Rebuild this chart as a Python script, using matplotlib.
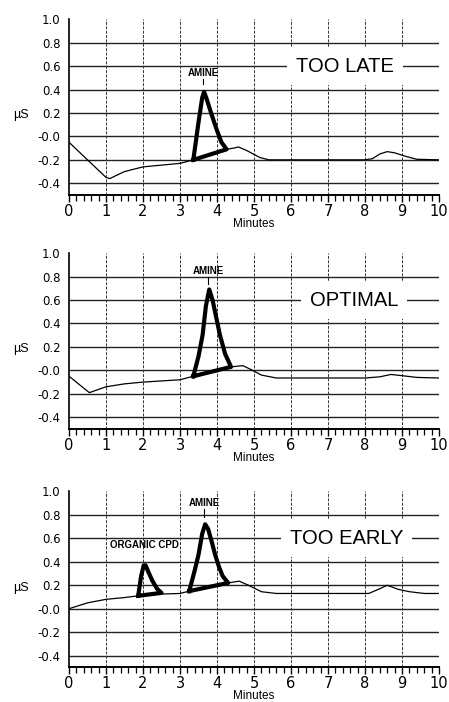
import numpy as np
import matplotlib.pyplot as plt
import matplotlib.transforms as mtransforms

plt.rcParams['font.family'] = ['Liberation Sans', 'DejaVu Sans']

# ---- data ----
late_x = [0, 0.5, 1.0, 1.1, 1.5, 2.0, 2.5, 3.0, 3.36, 3.8, 4.26, 4.45, 4.58, 4.8, 5.16, 5.4, 6, 7, 8.0, 8.2,
          8.4, 8.6, 8.8, 9.1, 9.4, 10]
late_y = [-0.05, -0.2, -0.35, -0.36, -0.30, -0.26, -0.245, -0.23, -0.20, -0.16, -0.11, -0.10, -0.09, -0.12,
          -0.18, -0.20, -0.20, -0.20, -0.20, -0.19, -0.15, -0.13, -0.14, -0.17, -0.195, -0.20]
late_pk_x = [3.36, 3.5, 3.6, 3.65, 3.72, 3.85, 4.0, 4.12, 4.26]
late_pk_y = [-0.20, 0.12, 0.33, 0.38, 0.32, 0.19, 0.05, -0.05, -0.11]

opt_x = [0, 0.55, 1.0, 1.5, 2.0, 2.5, 3.0, 3.36, 3.8, 4.38, 4.7, 4.9, 5.2, 5.6, 6, 7, 8.0, 8.4, 8.7, 9.0,
         9.4, 10]
opt_y = [-0.05, -0.19, -0.14, -0.115, -0.10, -0.09, -0.08, -0.05, -0.01, 0.03, 0.04, 0.01, -0.04, -0.065,
         -0.065, -0.065, -0.065, -0.055, -0.035, -0.045, -0.06, -0.065]
opt_pk_x = [3.36, 3.5, 3.61, 3.7, 3.79, 3.88, 3.98, 4.08, 4.22, 4.38]
opt_pk_y = [-0.05, 0.12, 0.30, 0.55, 0.69, 0.60, 0.45, 0.30, 0.14, 0.03]

early_x = [0, 0.5, 1.0, 1.5, 1.87, 2.5, 3.0, 3.25, 3.8, 4.3, 4.6, 4.85, 5.2, 5.6, 6, 7, 8.1, 8.4, 8.6,
           8.9, 9.2, 9.6, 10]
early_y = [0.0, 0.05, 0.08, 0.095, 0.11, 0.125, 0.13, 0.15, 0.19, 0.22, 0.235, 0.2, 0.145, 0.13, 0.13,
           0.13, 0.13, 0.17, 0.2, 0.165, 0.145, 0.13, 0.13]
early_org_x = [1.87, 1.95, 2.02, 2.07, 2.15, 2.25, 2.38, 2.5]
early_org_y = [0.11, 0.28, 0.37, 0.37, 0.31, 0.24, 0.17, 0.135]
early_pk_x = [3.25, 3.4, 3.5, 3.6, 3.68, 3.76, 3.85, 3.95, 4.05, 4.15, 4.3]
early_pk_y = [0.15, 0.33, 0.46, 0.64, 0.72, 0.68, 0.58, 0.46, 0.36, 0.28, 0.22]

ytick_vals = [-0.4, -0.2, 0.0, 0.2, 0.4, 0.6, 0.8, 1.0]
ytick_labels = ['-0.4', '-0.2', '-0.0', '0.2', '0.4', '0.6', '0.8', '1.0']
xtick_vals = list(range(11))

panels = [
    dict(x=late_x, y=late_y, peaks=[(late_pk_x, late_pk_y)], title='TOO LATE', title_x=7.46,
         amine=(3.63, 0.54, 0.45), organic=None),
    dict(x=opt_x, y=opt_y, peaks=[(opt_pk_x, opt_pk_y)], title='OPTIMAL', title_x=7.7,
         amine=(3.77, 0.85, 0.74), organic=None),
    dict(x=early_x, y=early_y, peaks=[(early_org_x, early_org_y), (early_pk_x, early_pk_y)],
         title='TOO EARLY', title_x=7.5, amine=(3.65, 0.90, 0.78), organic=(2.04, 0.54)),
]
bottoms = [0.7222, 0.3889, 0.0494]


def draw_panel(ax, p):
    ax.set_xlim(0, 10)
    ax.set_ylim(-0.5, 1.0)
    ax.hlines(ytick_vals[:-1], 0, 10, colors='#222222', lw=1.0, zorder=1)
    ax.vlines(range(1, 10), -0.5, 1.0, colors='#333333', lw=0.7, linestyles=(0, (3, 1.5)), zorder=1)

    ax.plot(p['x'], p['y'], color='black', lw=0.9, zorder=4)
    for px, py in p['peaks']:
        ax.plot(px + [px[0]], py + [py[0]], color='black', lw=3.0, solid_joinstyle='round', zorder=5)

    ax.text(p['title_x'], 0.6, p['title'], fontsize=14.5, ha='center', va='center', zorder=3,
            bbox=dict(boxstyle='square,pad=0.45', fc='white', ec='none'))
    ax_, ay, atip = p['amine']
    ax.text(ax_, ay, 'AMINE', fontsize=7, fontweight='bold', ha='center', va='center', zorder=3)
    ax.plot([ax_, ax_], [ay - 0.05, atip], color='black', lw=0.8, zorder=3)
    if p['organic'] is not None:
        ox, oy = p['organic']
        ax.text(ox, oy, 'ORGANIC CPD', fontsize=7, fontweight='bold', ha='center', va='center', zorder=3)

    for side in ['top', 'right']:
        ax.spines[side].set_visible(False)
    ax.spines['left'].set_linewidth(1.2)
    ax.spines['bottom'].set_linewidth(1.4)

    ax.set_yticks(ytick_vals)
    ax.set_yticklabels(ytick_labels, family='DejaVu Sans')
    ax.tick_params(axis='y', length=0, pad=6, labelsize=8.5)
    ax.set_xticks(xtick_vals)
    ax.set_xticklabels([str(v) for v in xtick_vals], family='DejaVu Sans')
    ax.set_xticks(np.arange(0, 10.01, 0.2), minor=True)
    ax.tick_params(axis='x', which='major', direction='out', length=5, width=1.0, pad=1.5, labelsize=10.5)
    ax.tick_params(axis='x', which='minor', direction='out', length=4, width=0.9)

    trans = mtransforms.blended_transform_factory(ax.transAxes, ax.transData)
    ax.text(-0.152, 0.18, 'µS', transform=trans, fontsize=9, ha='left', va='center')
    ax.text(0.5, -0.165, 'Minutes', transform=ax.transAxes, fontsize=8.5, ha='center', va='center')


fig = plt.figure(figsize=(4.49, 7.02), dpi=100)
for b, p in zip(bottoms, panels):
    ax = fig.add_axes([0.1537, b, 0.824, 0.2505])
    draw_panel(ax, p)

fig.savefig('out.png', dpi=100, facecolor='white')
